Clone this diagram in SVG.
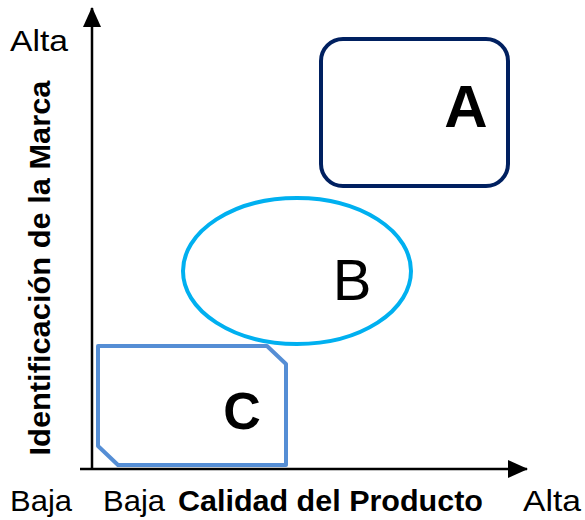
<svg xmlns="http://www.w3.org/2000/svg" width="585" height="520" viewBox="0 0 585 520">
<style>
text{font-family:"Liberation Sans","Open Sans",sans-serif;fill:#000}
.ax{font-size:29px}
.b{font-weight:bold}
.ln{stroke:#000;stroke-width:2.5;fill:none}
</style>
<defs>
<marker id="ah" markerWidth="20" markerHeight="18" refX="19" refY="9" orient="auto" markerUnits="userSpaceOnUse" viewBox="0 0 20 18">
<path d="M0,0 L20,9 L0,18 Z" fill="#000"/>
</marker>
</defs>
<rect width="585" height="520" fill="#fff"/>
<g id="connectors">
<line class="ln" x1="92" y1="470" x2="92" y2="8" marker-end="url(#ah)"/>
<line class="ln" x1="80" y1="469" x2="527" y2="469" marker-end="url(#ah)"/>
</g>
<g id="nodeA">
<rect x="321" y="39" width="187" height="147" rx="22" fill="none" stroke="#002060" stroke-width="4"/>
<text x="466" y="127" text-anchor="middle" font-size="60" class="b">A</text>
</g>
<g id="nodeB">
<ellipse cx="297" cy="271" rx="114" ry="73" fill="none" stroke="#00B0F0" stroke-width="4"/>
<text x="352" y="300" text-anchor="middle" font-size="58">B</text>
</g>
<g id="nodeC">
<path d="M98,346 L267,346 L286,364 L286,465 L118,465 L98,446 Z" fill="none" stroke="#558ED5" stroke-width="4" stroke-linejoin="round"/>
<text x="242" y="429" text-anchor="middle" font-size="52" class="b">C</text>
</g>
<g id="labels">
<text x="10" y="51" class="ax" textLength="58" lengthAdjust="spacingAndGlyphs">Alta</text>
<text transform="translate(50,268) rotate(-90)" text-anchor="middle" class="ax b" textLength="375" lengthAdjust="spacingAndGlyphs">Identificación de la Marca</text>
<text x="10" y="511" class="ax" textLength="62" lengthAdjust="spacingAndGlyphs">Baja</text>
<text x="103" y="511" class="ax" textLength="62" lengthAdjust="spacingAndGlyphs">Baja</text>
<text x="178" y="511" class="ax b" textLength="305" lengthAdjust="spacingAndGlyphs">Calidad del Producto</text>
<text x="523" y="511" class="ax" textLength="58" lengthAdjust="spacingAndGlyphs">Alta</text>
</g>
</svg>
